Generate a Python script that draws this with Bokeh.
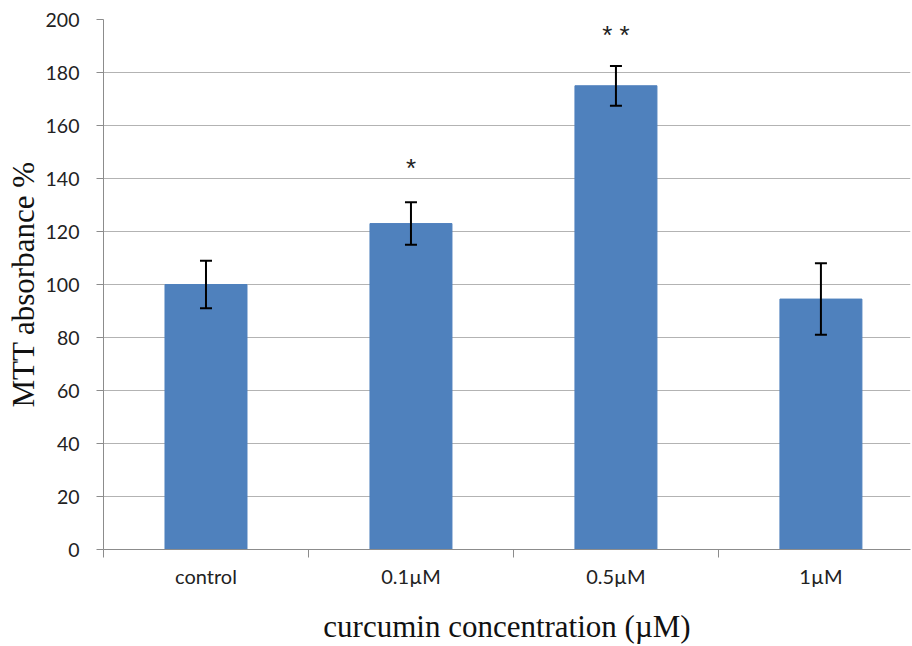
from bokeh.plotting import figure
from bokeh.models import ColumnDataSource, FixedTicker, Whisker, TeeHead, Range1d
from bokeh.core.properties import value
from bokeh.embed import file_html
from bokeh.resources import INLINE

categories = ["control", "0.1µM", "0.5µM", "1µM"]
means = [100, 123, 175, 94.5]
errors = [9, 8, 7.5, 13.5]
significance = ["", "*", "* *", ""]
sig_y = [0, 144, 194, 0]
y_ticks = [0, 20, 40, 60, 80, 100, 120, 140, 160, 180, 200]

xs = [i + 0.5 for i in range(len(categories))]
src = ColumnDataSource(dict(
    x=xs, top=means,
    upper=[m + e for m, e in zip(means, errors)],
    lower=[m - e for m, e in zip(means, errors)],
))
sig_src = ColumnDataSource(dict(
    x=[x for x, s in zip(xs, significance) if s],
    y=[y for y, s in zip(sig_y, significance) if s],
    t=[s for s in significance if s],
))

p = figure(width=912, height=646, output_backend="svg", toolbar_location=None,
           x_range=Range1d(0, 3.937), y_range=Range1d(0, 200),
           min_border_left=103, min_border_right=2, min_border_top=19, min_border_bottom=95)
p.outline_line_color = None
p.background_fill_color = "white"
p.border_fill_color = "white"

p.vbar(x="x", top="top", bottom=0, width=0.4, source=src,
       fill_color="#4F81BD", line_color="#4F81BD")

head = dict(size=12, line_width=2, line_color="black")
p.add_layout(Whisker(source=src, base="x", upper="upper", lower="lower",
                     line_width=2, line_color="black", level="overlay",
                     upper_head=TeeHead(**head), lower_head=TeeHead(**head)))

p.text(x="x", y="y", text="t", source=sig_src, text_align="center",
       text_baseline="middle", text_font=value("Liberation Sans"),
       text_font_size="26px", text_color="#222222")

# x axis
p.xaxis.ticker = FixedTicker(ticks=xs, minor_ticks=[0, 1, 2, 3])
p.xaxis.major_label_overrides = {x: c for x, c in zip(xs, categories)}
p.xaxis.major_tick_out = 0
p.xaxis.major_tick_in = 0
p.xaxis.minor_tick_out = 8
p.xaxis.minor_tick_in = 0
p.xaxis.minor_tick_line_color = "#8c8c8c"
p.xaxis.axis_line_color = "#8c8c8c"
p.xaxis.major_label_text_font = "Lato"
p.xaxis.major_label_text_font_size = "20px"
p.xaxis.major_label_text_color = "#222222"
p.xaxis.major_label_standoff = 6
p.xaxis.axis_label = "curcumin concentration (µM)"
p.xaxis.axis_label_text_font = "Liberation Serif"
p.xaxis.axis_label_text_font_style = "normal"
p.xaxis.axis_label_text_font_size = "31px"
p.xaxis.axis_label_text_color = "#111111"
p.xaxis.axis_label_standoff = 18
p.xgrid.grid_line_color = None

# y axis
p.yaxis.ticker = FixedTicker(ticks=y_ticks)
p.yaxis.major_tick_out = 7
p.yaxis.major_tick_in = 0
p.yaxis.minor_tick_line_color = None
p.yaxis.axis_line_color = "#8c8c8c"
p.yaxis.major_tick_line_color = "#8c8c8c"
p.yaxis.major_label_text_font = "Lato"
p.yaxis.major_label_text_font_size = "19.5px"
p.yaxis.major_label_text_color = "#222222"
p.yaxis.major_label_standoff = 17
p.yaxis.axis_label = "MTT absorbance %"
p.yaxis.axis_label_text_font = "Liberation Serif"
p.yaxis.axis_label_text_font_style = "normal"
p.yaxis.axis_label_text_font_size = "31px"
p.yaxis.axis_label_text_color = "#111111"
p.yaxis.axis_label_standoff = 2
p.ygrid.grid_line_color = "#b3b3b3"
p.ygrid.grid_line_width = 1

open("out.html", "w").write(file_html(p, INLINE))
